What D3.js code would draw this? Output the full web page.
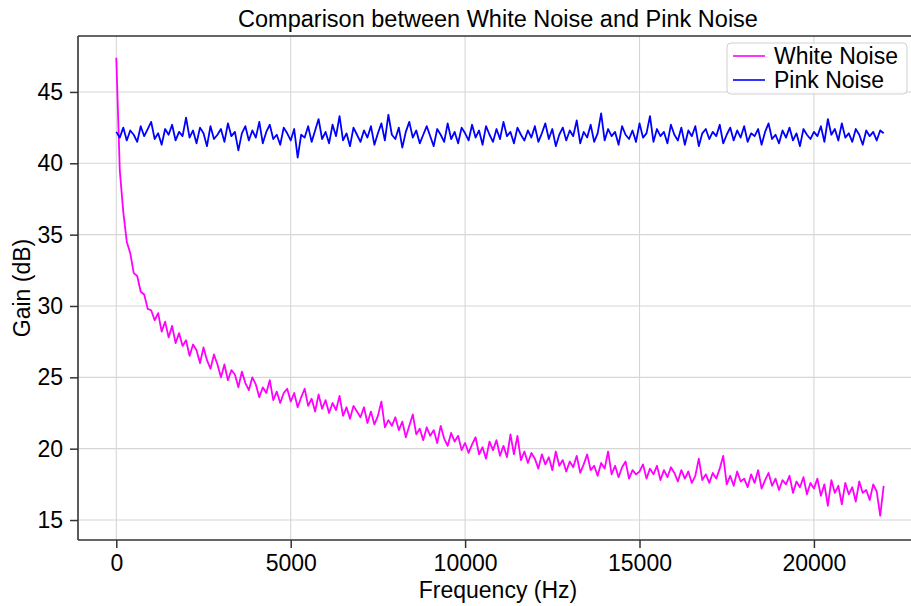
<!DOCTYPE html>
<html>
<head>
<meta charset="utf-8">
<script src="https://cdn.jsdelivr.net/npm/d3@7"></script>
<style>
  body { margin: 0; background: #fff; overflow: hidden; }
  text { font-family: "Liberation Sans", Arial, sans-serif; fill: #000; }
</style>
</head>
<body>
<script>
// gain in dB, one value per 100 Hz bin (0 .. 22000 Hz)
var binHz = 100

var whiteNoise = [
  47.4, 39.5, 36.6, 34.5, 33.7, 32.3, 32.1, 31.0, 30.8, 29.8,
  29.7, 29.0, 29.5, 28.2, 28.9, 27.8, 28.6, 27.4, 28.1, 27.2,
  27.6, 26.5, 27.3, 26.9, 26.0, 27.1, 26.2, 25.6, 26.6, 25.9,
  25.0, 25.9, 24.8, 25.5, 25.2, 24.3, 25.4, 24.6, 24.1, 25.0,
  24.5, 23.6, 24.3, 23.9, 24.8, 23.4, 24.0, 23.2, 23.9, 24.2,
  23.3, 23.9, 22.9, 23.6, 24.2, 23.0, 23.5, 22.6, 23.8, 22.8,
  23.4, 22.5, 23.2, 22.7, 23.7, 22.3, 22.9, 22.1, 23.0, 22.6,
  22.2, 22.9, 21.8, 22.6, 21.7, 22.3, 23.3, 21.5, 22.0, 21.6,
  22.2, 21.3, 21.9, 20.8, 21.6, 22.4, 21.0, 21.4, 20.6, 21.5,
  20.9, 21.3, 20.4, 21.6, 20.7, 20.2, 21.1, 20.5, 20.9, 19.9,
  20.4, 19.7, 20.3, 20.8, 19.6, 20.1, 19.3, 20.5, 19.9, 20.6,
  19.5, 20.2, 19.4, 21.0, 19.6, 20.9, 19.2, 19.8, 19.0, 19.7,
  19.3, 18.6, 19.6, 18.9, 19.4, 18.5, 19.8, 18.8, 19.2, 18.4,
  19.1, 18.7, 19.5, 18.3, 18.9, 19.6, 18.5, 18.8, 18.1, 19.0,
  18.6, 19.8, 18.2, 18.8, 18.0, 18.7, 19.1, 17.9, 18.5, 18.2,
  18.4, 18.9, 17.9, 18.6, 18.2, 18.8, 17.8, 18.5, 18.0, 18.7,
  18.3, 17.7, 18.5, 17.9, 18.4, 17.6, 18.1, 19.3, 17.8, 18.2,
  17.6, 18.3, 17.9, 18.6, 19.5, 17.5, 18.1, 17.4, 18.4, 17.7,
  17.9, 17.3, 18.2, 17.6, 18.5, 17.2, 17.8, 18.3, 17.4, 17.9,
  17.1, 17.8, 17.5, 18.1, 16.9, 17.7, 17.3, 18.0, 16.8, 17.6,
  17.2, 17.9, 16.7, 17.5, 16.0, 17.8, 16.9, 17.4, 16.1, 17.6,
  16.8, 17.3, 16.3, 17.7, 16.9, 17.1, 16.4, 17.5, 17.0, 15.3,
  17.4
]

var pinkNoise = [
  42.2, 41.8, 42.5, 41.6, 42.3, 42.0, 41.5, 42.6, 41.9, 42.4,
  42.9, 41.7, 42.1, 41.3, 42.4, 42.0, 42.7, 41.6, 42.2, 41.9,
  43.2, 41.8, 42.3, 41.4, 42.5, 42.1, 41.2, 42.6, 41.7, 42.0,
  42.4, 41.5, 42.8, 41.9, 42.2, 40.9, 42.1, 42.6, 41.6, 42.3,
  41.8, 42.9, 41.4, 42.2, 42.7, 41.7, 42.0, 41.3, 42.5, 42.1,
  41.6, 42.4, 40.4, 42.0, 41.8, 42.6, 41.5, 42.3, 43.1, 41.7,
  42.2, 41.4, 42.7, 41.9, 43.3, 41.6, 42.1, 41.2, 42.5, 42.0,
  41.5, 42.3, 41.8, 42.6, 41.3, 42.1, 42.8, 41.6, 43.4, 42.0,
  41.7, 42.5, 41.1, 42.2, 42.9, 41.8, 42.3, 41.4, 42.0, 42.6,
  41.9, 41.2, 42.4, 42.0, 41.5, 42.8, 41.7, 42.2, 41.4, 42.5,
  42.1, 41.6, 42.7, 41.8, 42.3, 41.3, 42.6, 42.0, 41.5, 42.4,
  41.7, 42.9, 41.9, 42.2, 41.4, 42.5, 42.0, 41.6, 42.3, 41.8,
  42.6, 41.5, 42.1, 42.8, 41.7, 42.4, 41.2, 42.0, 42.5, 41.6,
  42.3, 41.9, 43.0, 41.4, 42.2, 41.8, 42.7, 41.5, 42.1, 43.5,
  41.6, 42.4, 41.9, 42.2, 41.3, 42.6, 42.0, 41.7, 42.3, 41.5,
  42.8, 41.8, 42.1, 43.3, 41.5, 42.4, 41.9, 42.2, 41.4, 42.7,
  42.0, 41.6, 42.5, 41.3, 42.3, 41.9, 42.6, 41.2, 42.1, 42.4,
  41.7, 42.2, 41.9, 42.7, 41.4, 42.0, 42.5, 41.6, 42.3, 41.8,
  42.6, 41.5, 42.1, 41.9, 42.4, 41.3, 42.2, 42.8, 41.7, 42.0,
  41.4, 42.3, 41.8, 42.5, 41.6, 42.1, 41.2, 42.4, 42.0, 41.7,
  42.2, 41.9, 42.6, 41.5, 43.1, 42.0, 42.4, 41.6, 42.8, 41.8,
  42.1, 41.5, 42.4, 42.0, 41.3, 42.3, 41.9, 42.2, 41.6, 42.3,
  42.1
]

var xTicks = [0, 5000, 10000, 15000, 20000]
var yTicks = [15, 20, 25, 30, 35, 40, 45]

var seriesNames = ['White Noise', 'Pink Noise']
var seriesColors = ['#ff00ff', '#0000ff']

var W = 911, H = 606
// right edge of the axes sits just outside the picture
var m = {left: 78, right: 918, top: 36, bottom: 540}
var fs = 23

var svg = d3.select('body').append('svg')
  .attr('width', W).attr('height', H)

var x = d3.scaleLinear().domain([-1098, 22984]).range([m.left, m.right])
var y = d3.scaleLinear().domain([13.6, 48.92]).range([m.bottom, m.top])

svg.append('clipPath').attr('id', 'plot')
  .append('rect')
  .attr('x', m.left).attr('y', m.top)
  .attr('width', m.right - m.left).attr('height', m.bottom - m.top)

// grid
var grid = svg.append('g').attr('stroke', '#d6d6d6').attr('stroke-width', 1.1)
grid.selectAll('.gx').data(xTicks).join('line')
  .attr('x1', d => x(d)).attr('x2', d => x(d))
  .attr('y1', m.top).attr('y2', m.bottom)
grid.selectAll('.gy').data(yTicks).join('line')
  .attr('x1', m.left).attr('x2', m.right)
  .attr('y1', d => y(d)).attr('y2', d => y(d))

// lines
var line = d3.line()
  .x((d, i) => x(i * binHz))
  .y(d => y(d))

var lines = svg.append('g').attr('clip-path', 'url(#plot)')
;[whiteNoise, pinkNoise].forEach(function(s, i){
  lines.append('path')
    .attr('d', line(s))
    .attr('fill', 'none')
    .attr('stroke', seriesColors[i])
    .attr('stroke-width', 1.8)
    .attr('stroke-linejoin', 'round')
})

// axes
var xAxis = svg.append('g')
  .attr('transform', 'translate(0,' + m.bottom + ')')
  .call(d3.axisBottom(x).tickValues(xTicks).tickFormat(d3.format('d')).tickSize(8).tickPadding(7))
var yAxis = svg.append('g')
  .attr('transform', 'translate(' + m.left + ',0)')
  .call(d3.axisLeft(y).tickValues(yTicks).tickSize(8).tickPadding(7))

;[xAxis, yAxis].forEach(function(a){
  a.select('.domain').remove()
  a.selectAll('line').attr('stroke', '#333').attr('stroke-width', 1.5)
  a.selectAll('text')
    .attr('font-size', fs)
    .attr('font-family', '"Liberation Sans", Arial, sans-serif')
    .attr('fill', '#000')
})

// spines: left, bottom, top (right one falls outside the picture)
var spine = svg.append('g').attr('stroke', '#333').attr('stroke-width', 1.6)
spine.append('line').attr('x1', m.left).attr('x2', m.left).attr('y1', m.top).attr('y2', m.bottom)
spine.append('line').attr('x1', m.left).attr('x2', W).attr('y1', m.bottom).attr('y2', m.bottom)
spine.append('line').attr('x1', m.left).attr('x2', W).attr('y1', m.top).attr('y2', m.top)

// labels
var cx = (m.left + m.right) / 2
svg.append('text').attr('x', cx).attr('y', 27)
  .attr('text-anchor', 'middle').attr('font-size', fs + 0.5)
  .text('Comparison between White Noise and Pink Noise')
svg.append('text').attr('x', cx).attr('y', 598)
  .attr('text-anchor', 'middle').attr('font-size', fs)
  .text('Frequency (Hz)')
svg.append('text')
  .attr('transform', 'translate(30,' + (m.top + m.bottom) / 2 + ') rotate(-90)')
  .attr('text-anchor', 'middle').attr('font-size', fs)
  .text('Gain (dB)')

// legend
var lg = svg.append('g').attr('transform', 'translate(727,43)')
lg.append('rect')
  .attr('width', 180).attr('height', 51).attr('rx', 4)
  .attr('fill', 'rgba(255,255,255,0.8)').attr('stroke', '#d0d0d0').attr('stroke-width', 1)
seriesNames.forEach(function(n, i){
  var yy = 13 + i * 24
  lg.append('line')
    .attr('x1', 6).attr('x2', 38).attr('y1', yy).attr('y2', yy)
    .attr('stroke', seriesColors[i]).attr('stroke-width', 1.6)
  lg.append('text').attr('x', 47).attr('y', yy + 8)
    .attr('font-size', fs).text(n)
})
</script>
</body>
</html>
